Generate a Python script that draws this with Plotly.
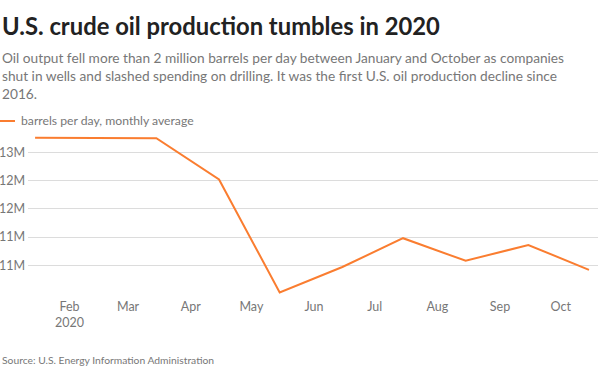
import plotly.graph_objects as go

# Data (millions of barrels per day, monthly average, 2020)
dates = ["2020-01-15", "2020-02-15", "2020-03-15", "2020-04-15", "2020-05-15",
         "2020-06-15", "2020-07-15", "2020-08-15", "2020-09-15", "2020-10-15"]
production = [12.76, 12.76, 12.75, 12.02, 10.02, 10.47, 10.98, 10.58, 10.86, 10.42]

x_tickvals = ["2020-02-01", "2020-03-01", "2020-04-01", "2020-05-01", "2020-06-01",
              "2020-07-01", "2020-08-01", "2020-09-01", "2020-10-01"]
x_ticktext = ["Feb<br>2020", "Mar", "Apr", "May", "Jun", "Jul", "Aug", "Sep", "Oct"]
y_tickvals = [10.5, 11.0, 11.5, 12.0, 12.5]
y_ticktext = ["11M", "11M", "12M", "12M", "13M"]

W, H = 600, 373
L, R, T, B = 28, 2, 130, 76
PW, PH = W - L - R, H - T - B
FONT = "Lato"
ORANGE = "#fa7d30"


def px(xp):
    return (xp - L) / PW


def py(yp):
    return (H - B - yp) / PH


fig = go.Figure()
fig.add_trace(go.Scatter(x=dates, y=production, mode="lines",
                         line=dict(color=ORANGE, width=2),
                         name="barrels per day, monthly average",
                         showlegend=False))

fig.update_layout(
    width=W, height=H,
    margin=dict(l=L, r=R, t=T, b=B, autoexpand=False),
    paper_bgcolor="white", plot_bgcolor="white",
    font=dict(family=FONT, color="#777"),
    xaxis=dict(range=["2020-01-11 12:00", "2020-10-19 11:00"],
               tickvals=x_tickvals, ticktext=x_ticktext,
               showgrid=False, zeroline=False, showline=False, ticks="",
               automargin=False,
               tickfont=dict(size=12.5, color="#777")),
    yaxis=dict(range=[9.939, 12.895], tickvals=y_tickvals, ticktext=y_ticktext,
               showgrid=True, gridcolor="#dcdcdc", gridwidth=1,
               zeroline=False, showline=False, ticks="",
               automargin=False, ticklabelstandoff=2,
               tickfont=dict(size=12.5, color="#777")),
    showlegend=False,
)

annotations = [
    dict(text="<b>U.S. crude oil production tumbles in 2020</b>",
         x=px(0), y=py(26), xanchor="left", yanchor="middle",
         font=dict(size=23.8, color="#222", family=FONT)),
    dict(text="Oil output fell more than 2 million barrels per day between January and October as companies"
              "<br>shut in wells and slashed spending on drilling. It was the first U.S. oil production decline since"
              "<br>2016.",
         x=px(0), y=py(47), xanchor="left", yanchor="top", align="left",
         font=dict(size=13.7, color="#777", family=FONT)),
    dict(text="barrels per day, monthly average",
         x=px(19), y=py(121), xanchor="left", yanchor="middle",
         font=dict(size=12.2, color="#777", family=FONT)),
    dict(text="Source: U.S. Energy Information Administration",
         x=px(0), y=py(360), xanchor="left", yanchor="middle",
         font=dict(size=10.3, color="#777", family=FONT)),
]
for a in annotations:
    a.update(xref="paper", yref="paper", showarrow=False)
fig.update_layout(annotations=annotations)

fig.add_shape(type="line", xref="paper", yref="paper",
              x0=px(0), x1=px(15), y0=py(121), y1=py(121),
              line=dict(color=ORANGE, width=2))

fig.write_html("out.html", config={"displayModeBar": False},
               post_script="document.body.style.margin='0';")
